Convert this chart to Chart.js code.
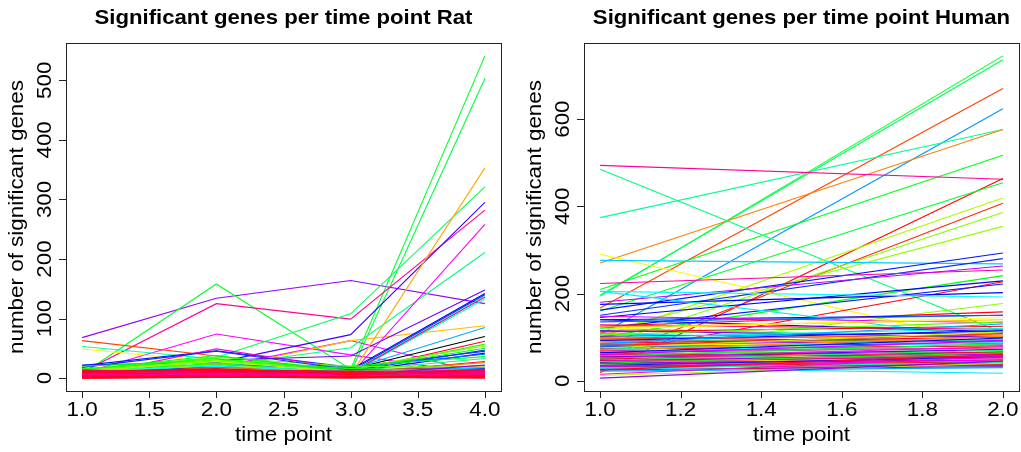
<!DOCTYPE html>
<html>
<head>
<meta charset="utf-8">
<script src="https://cdn.jsdelivr.net/npm/chart.js@4.4.1/dist/chart.umd.min.js"></script>
<style>
  body { margin: 0; background: #fff; }
  #wrap { position: relative; width: 1021px; height: 452px; }
  canvas { position: absolute; top: 0; }
</style>
</head>
<body>
<div id="wrap">
  <canvas id="rat" width="510" height="452" style="left:0"></canvas>
  <canvas id="human" width="511" height="452" style="left:510px"></canvas>
</div>
<script>
// ---- Rat: genes per time point (1..4), one line per sample ----
const ratTimes = [1, 2, 3, 4];
const ratT1 = [68, 7, 4, 10, 8, 63, 53, 49, 10, 22, 21, 3, 5, 12, 6, 5, 2, 3, 8, 6, 4, 5, 3, 10, 2, 3, 14, 12, 16, 9,
  5, 8, 11, 4, 6, 3, 7, 15, 18, 20, 13, 11, 9, 14, 10, 7, 12, 6, 4, 9, 5,
  9, 4, 12, 2, 6, 1, 11, 3, 0, 7, 1, 5, 14, 2, 8, 1, 10, 3, 0, 13, 6, 2];
const ratT2 = [134, 158, 10, 125, 74, 37, 32, 27, 35, 26, 46, 49, 18, 15, 20, 30, 8, 6, 24, 20, 30, 25, 12, 30, 5, 10, 33, 30, 28, 17,
  20, 22, 25, 14, 10, 12, 18, 35, 45, 30, 30, 28, 24, 38, 22, 16, 20, 12, 9, 14, 8,
  12, 7, 15, 4, 9, 3, 14, 6, 2, 10, 5, 11, 8, 3, 13, 2, 16, 5, 1, 9, 6, 4];
const ratT3 = [164, 15, 9, 99, 39, 12, 14, 15, 108, 73, 18, 15, 63, 63, 51, 37, 5, 6, 14, 12, 10, 8, 9, 15, 15, 10, 12, 16, 14, 12,
  10, 18, 20, 12, 8, 10, 11, 20, 14, 16, 12, 10, 8, 10, 7, 9, 11, 6, 5, 7, 4,
  8, 3, 11, 2, 6, 1, 10, 4, 1, 7, 3, 9, 5, 2, 12, 0, 6, 3, 1, 8, 4, 2];
const ratT4 = [125, 541, 503, 282, 6, 8, 11, 9, 321, 295, 45, 14, 7, 88, 211, 148, 353, 258, 142, 140, 137, 133, 136, 85, 70, 62, 57, 54, 50, 47,
  42, 40, 36, 33, 28, 26, 21, 18, 16, 12, 10, 8, 6, 9, 5, 12, 14, 18, 22, 4, 10,
  10, 5, 13, 3, 8, 2, 6, 4, 1, 9, 7, 12, 2, 1, 5, 3, 15, 6, 0, 11, 7, 4];
// line hues (-1 = black)
const ratHues = [275, 130, 135, 325, 300, 15, 160, 58, 140, 255, 235, 310, 295, 45, 150, 265, 40, 300, 240, 230, 165, 170, 340, 200, -1, 350, 110, 95, 120, 225,
  245, 215, 130, 150, 355, 30, 20, 100, 230, 115, 90, 75, 105, 125, 85, 65, 180, 190, 270, 285, 200,
  345, 350, 330, 340, 0, 325, 352, 335, 358, 320, 330, 355, 315, 342, 347, 353, 356, 338, 351, 344, 325, 354];
const ratXTicks = [1, 1.5, 2, 2.5, 3, 3.5, 4];
const ratYTicks = [0, 100, 200, 300, 400, 500];

// ---- Human: genes per time point (1..2) ----
const humanTimes = [1, 2];
const humanT1 = [194, 196, 167, 106, 374, 270, 209, 494, 485, 19, 160, 100, 50, 80, 110, 290, 276, 162, 150, 223,
  180, 100, 145, 60, 120, 175, 205, 65, 125, 140, 205,
  148, 140, 135, 128, 123, 120, 118, 115, 112, 108, 105, 102, 100, 98, 96, 94, 92, 90, 88, 86,
  85, 83, 82, 80, 78, 76, 75, 73, 72, 70, 69, 68, 66, 65, 64, 62, 61, 60, 58, 57,
  56, 55, 54, 53, 52, 51, 50, 49, 48, 47, 46, 45, 44, 43, 42, 41, 40, 39, 38, 37,
  36, 35, 34, 33, 32, 30, 28, 26, 24, 22, 30, 12, 6, 15, 25];
const humanT2 = [745, 736, 670, 624, 576, 576, 517, 462, 110, 464, 454, 419, 407, 386, 354, 80, 268, 293, 280, 254,
  263, 241, 229, 227, 222, 202, 192, 177, 158, 150, 95,
  133, 112, 150, 118, 140, 98, 145, 100, 125, 90, 135, 110, 88, 120, 105, 84, 115, 95, 72, 100,
  130, 92, 68, 108, 86, 62, 112, 80, 95, 58, 102, 75, 88, 52, 98, 70, 55, 92, 65, 48,
  85, 60, 72, 44, 78, 58, 66, 40, 54, 70, 45, 62, 50, 36, 58, 47, 64, 42, 52, 33,
  46, 55, 40, 35, 48, 38, 42, 32, 36, 30, 17, 40, 45, 55, 60];
const humanHues = [130, 140, 15, 205, 155, 30, 125, 325, 150, 0, 130, 80, 10, 90, 85, 58, 192, 235, 228, 322,
  285, 120, 240, 355, 235, 240, 178, 88, 355, 240, 185,
  295, 240, 215, 330, 45, 150, 60, 270, 0, 190, 100, 230, 340, 170, 20, 300, 250, 120, 55, 345,
  200, 280, 140, 10, 225, 315, 75, 355, 160, 265, 35, 310, 180, 350, 240, 105, 325, 290, 5, 200,
  130, 335, 260, 25, 300, 95, 345, 215, 320, 145, 0, 280, 55, 190, 330, 250, 115, 355, 305, 175,
  30, 235, 340, 210, 290, 5, 160, 270, 345, 200, 185, 80, 275, 310, 350];
const humanXTicks = [1, 1.2, 1.4, 1.6, 1.8, 2];
const humanYTicks = [0, 200, 400, 600];

const FONT = '"Liberation Sans", Arial, Helvetica, sans-serif';
const STRETCH = 1.12;

function hueColor(h) {
  return h < 0 ? '#000000' : `hsl(${h}, 100%, 50%)`;
}

// R-style axis range: data range padded by 4% on each side
function padRange(values) {
  const lo = Math.min(...values), hi = Math.max(...values);
  const pad = (hi - lo) * 0.04;
  return { min: lo - pad, max: hi + pad };
}

function drawText(ctx, text, x, y, font, rotate) {
  ctx.save();
  ctx.translate(x, y);
  if (rotate) ctx.rotate(-Math.PI / 2);
  ctx.scale(STRETCH, 1);
  ctx.font = font;
  ctx.textAlign = 'center';
  ctx.textBaseline = 'alphabetic';
  ctx.fillText(text, 0, 0);
  ctx.restore();
}

// box, outward ticks and labels drawn like base R graphics
const rAxes = {
  id: 'rAxes',
  afterDraw(chart, args, opts) {
    const { ctx, chartArea: ca } = chart;
    const x = chart.scales.x, y = chart.scales.y;
    ctx.save();
    ctx.strokeStyle = '#222';
    ctx.lineWidth = 1;
    ctx.strokeRect(Math.round(ca.left) + 0.5, Math.round(ca.top) + 0.5,
      Math.round(ca.right - ca.left), Math.round(ca.bottom - ca.top));
    ctx.beginPath();
    opts.xTicks.forEach(v => {
      const px = Math.round(x.getPixelForValue(v)) + 0.5;
      ctx.moveTo(px, ca.bottom);
      ctx.lineTo(px, ca.bottom + 7);
    });
    opts.yTicks.forEach(v => {
      const py = Math.round(y.getPixelForValue(v)) + 0.5;
      ctx.moveTo(ca.left - 7, py);
      ctx.lineTo(ca.left, py);
    });
    ctx.stroke();

    ctx.fillStyle = '#000';
    const tickFont = '20px ' + FONT;
    opts.xTicks.forEach(v => drawText(ctx, v.toFixed(1), x.getPixelForValue(v), ca.bottom + 25, tickFont, false));
    opts.yTicks.forEach(v => drawText(ctx, String(v), ca.left - 15, y.getPixelForValue(v), tickFont, true));

    const midX = (ca.left + ca.right) / 2, midY = (ca.top + ca.bottom) / 2;
    drawText(ctx, opts.title, midX, 24, 'bold 19.8px ' + FONT, false);
    drawText(ctx, 'time point', midX, ca.bottom + 50, tickFont, false);
    drawText(ctx, 'number of significant genes', ca.left - 43.5, midY, tickFont, true);
    ctx.restore();
  }
};

function makeChart(id, times, series, hues, xTicks, yTicks, title, padding) {
  const datasets = series[0].map((_, i) => ({
    data: times.map((t, k) => ({ x: t, y: series[k][i] })),
    borderColor: hueColor(hues[i]),
    borderWidth: 1.1,
    pointRadius: 0,
    tension: 0,
    fill: false,
    order: -i
  }));
  const xr = padRange(times);
  const yr = padRange(series.flat());
  return new Chart(document.getElementById(id), {
    type: 'line',
    data: { datasets },
    options: {
      responsive: false,
      animation: false,
      events: [],
      layout: { padding },
      scales: {
        x: { type: 'linear', display: false, min: xr.min, max: xr.max },
        y: { type: 'linear', display: false, min: yr.min, max: yr.max }
      },
      plugins: {
        legend: { display: false },
        tooltip: { enabled: false },
        rAxes: { xTicks, yTicks, title }
      }
    },
    plugins: [rAxes]
  });
}

makeChart('rat', ratTimes, [ratT1, ratT2, ratT3, ratT4], ratHues, ratXTicks, ratYTicks,
  'Significant genes per time point Rat', { left: 66, right: 9, top: 43, bottom: 61 });
makeChart('human', humanTimes, [humanT1, humanT2], humanHues, humanXTicks, humanYTicks,
  'Significant genes per time point Human', { left: 74, right: 2, top: 43, bottom: 61 });
</script>
</body>
</html>
